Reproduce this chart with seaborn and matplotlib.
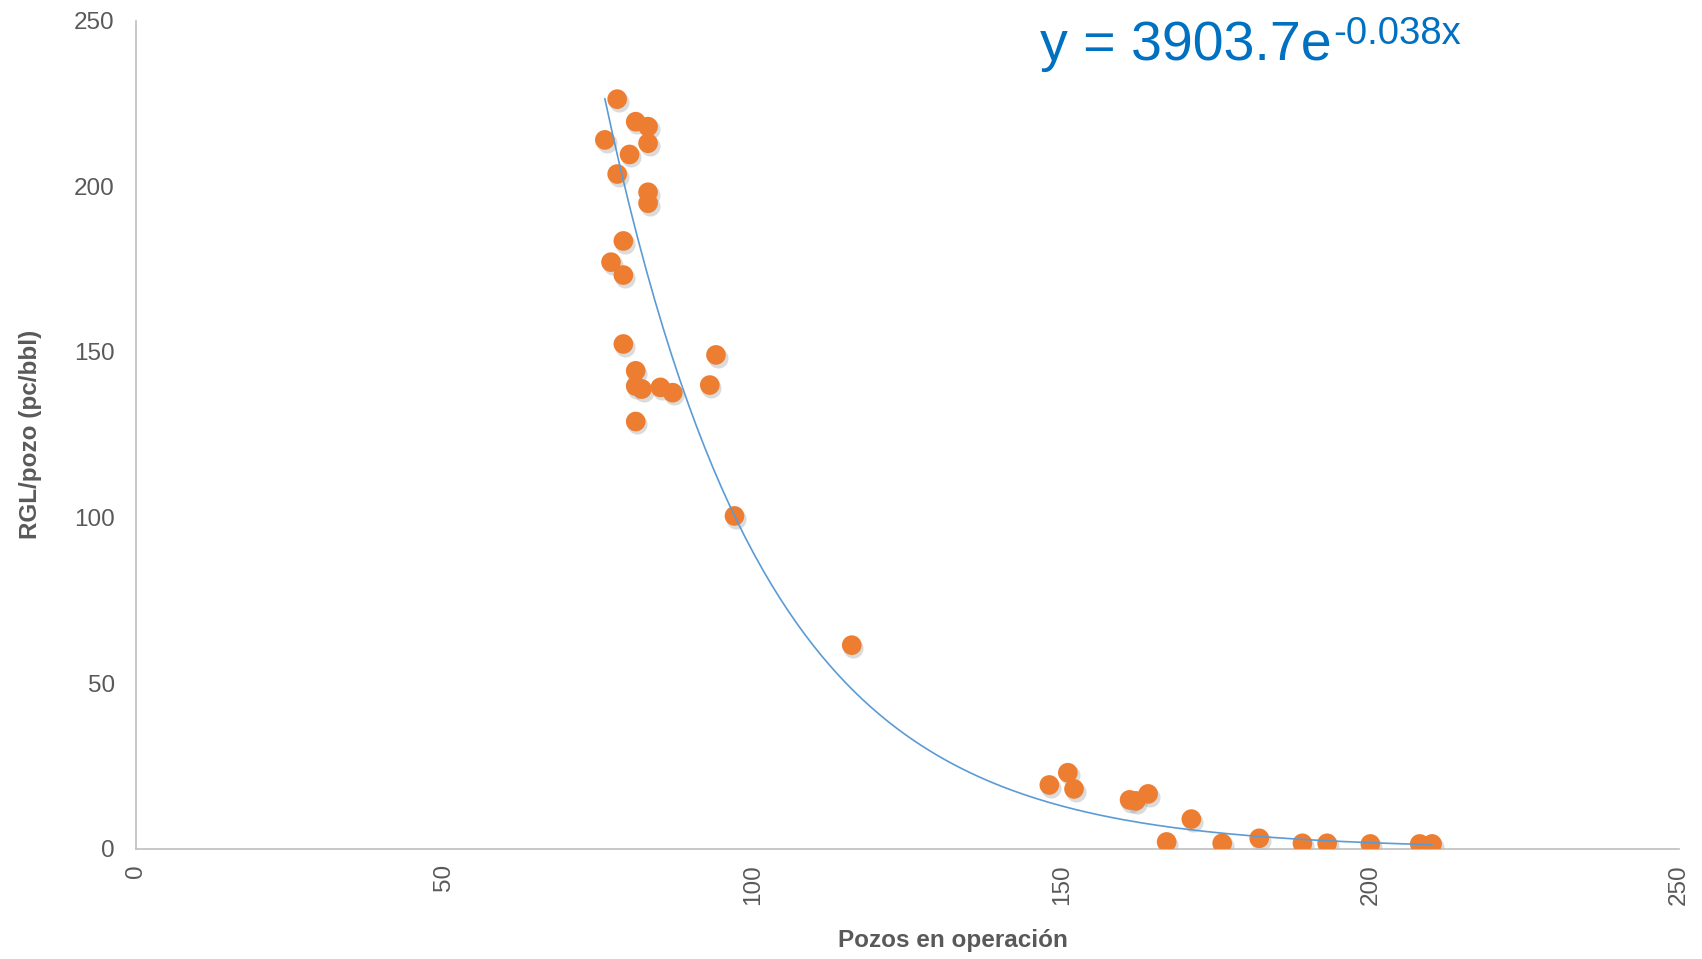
import numpy as np
import pandas as pd
import seaborn as sns
import matplotlib.pyplot as plt
from matplotlib.transforms import offset_copy

# pozos en operacion vs RGL por pozo
pozos = [76, 78, 78, 79, 79, 79, 77, 80, 81, 81, 81, 81, 82, 83, 83, 83, 83, 85, 87,
         93, 94, 97, 116, 148, 151, 152, 161, 162, 164, 167, 171, 176, 182, 189, 193,
         200, 208, 210]
rgl = [214.0, 226.3, 203.7, 183.5, 173.2, 152.4, 177.1, 209.6, 219.5, 144.3, 139.7,
       129.0, 138.8, 218.0, 213.0, 198.2, 194.9, 139.3, 137.7, 140.0, 149.1, 100.5,
       61.5, 19.3, 23.0, 18.1, 14.8, 14.5, 16.6, 2.1, 9.0, 1.7, 3.2, 1.7, 1.7, 1.5,
       1.5, 1.5]
ticks = [0, 50, 100, 150, 200, 250]
ecuacion = 'y = 3903.7e'
exponente = '-0.038x'

GRAY = '#595959'
ORANGE = '#ED7D31'
BLUE = '#5B9BD5'
EQ_BLUE = '#0070C0'

df = pd.DataFrame({'pozos': pozos, 'rgl': rgl})

# excel style exponential trend: fit on log(y)
b, ln_a = np.polyfit(df['pozos'], np.log(df['rgl']), 1)
xs = np.linspace(df['pozos'].min(), df['pozos'].max(), 200)
trend = pd.DataFrame({'pozos': xs, 'rgl': np.exp(ln_a) * np.exp(b * xs)})

sns.set_theme(style='white')
plt.rcParams['font.family'] = ['Liberation Sans', 'DejaVu Sans']

fig = plt.figure(figsize=(17.02, 9.59), dpi=100)
ax = fig.add_axes([0.0797, 0.1148, 0.9068, 0.8637])

# soft shadow under the markers
shadow = offset_copy(ax.transData, fig=fig, x=1.2, y=-2.0, units='points')
ax.scatter(df['pozos'], df['rgl'], s=210, color='#8a8a8a', alpha=0.3,
           linewidths=0, transform=shadow, zorder=2)
sns.scatterplot(data=df, x='pozos', y='rgl', ax=ax, s=200, color=ORANGE,
                edgecolor='none', zorder=3)
sns.lineplot(data=trend, x='pozos', y='rgl', ax=ax, color=BLUE, linewidth=1.2,
             zorder=4)

ax.set_xlim(0, 250)
ax.set_ylim(0, 250)
ax.set_xticks(ticks)
ax.set_yticks(ticks)
ax.tick_params(axis='both', length=0, labelsize=17.5, labelcolor=GRAY)
ax.tick_params(axis='y', pad=15)
ax.tick_params(axis='x', pad=11, labelrotation=90)

sns.despine(ax=ax)
for side in ['left', 'bottom']:
    ax.spines[side].set_color('#BFBFBF')
    ax.spines[side].set_linewidth(1.2)

ax.set_xlabel('Pozos en operación', fontsize=17.5, fontweight='bold', color=GRAY)
ax.set_ylabel('RGL/pozo (pc/bbl)', fontsize=17.5, fontweight='bold', color=GRAY)
ax.xaxis.set_label_coords(0.5296, -0.097)
ax.yaxis.set_label_coords(-0.0605, 0.501)

# trendline equation, superscript as a second text glued to the first
eq = fig.text(0.611, 0.937, ecuacion, fontsize=40, color=EQ_BLUE, va='baseline')
ax.annotate(exponente, xy=(1.0, 0.55), xycoords=eq, xytext=(1, 0),
            textcoords='offset points', fontsize=27.5, color=EQ_BLUE,
            ha='left', va='baseline', annotation_clip=False)

plt.savefig('out.png', dpi=100)
